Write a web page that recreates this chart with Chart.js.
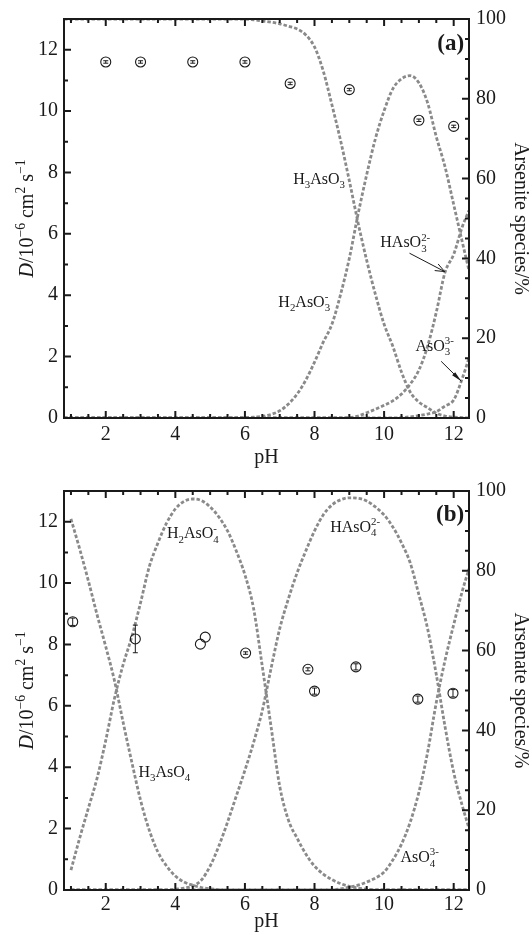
<!DOCTYPE html>
<html>
<head>
<meta charset="utf-8">
<script src="https://cdn.jsdelivr.net/npm/chart.js@4.4.1/dist/chart.umd.min.js"></script>
<style>
  body { margin: 0; background: #fff; }
  canvas { position: absolute; left: 0; }
</style>
</head>
<body>
<canvas id="chartA" width="532" height="472" style="top:0"></canvas>
<canvas id="chartB" width="532" height="463" style="top:472px"></canvas>
<script>
// tick labels
const xTicks = [2, 4, 6, 8, 10, 12];
const dTicks = [0, 2, 4, 6, 8, 10, 12];
const pctTicks = [0, 20, 40, 60, 80, 100];

// (a) arsenite: measured D and speciation curves (%)
const pointPhA = [2, 3, 4.5, 6, 7.3, 9, 11, 12];
const pointDA = [11.6, 11.6, 11.6, 11.6, 10.9, 10.7, 9.7, 9.5];
const pointErrA = [0.04, 0.04, 0.04, 0.04, 0.04, 0.04, 0.04, 0.04];

const phA = [0.8, 1, 2, 3, 4, 5, 6, 6.25, 6.5, 6.75, 7, 7.25, 7.5, 7.75, 8, 8.25, 8.5,
  8.75, 9, 9.25, 9.5, 9.75, 10, 10.25, 10.5, 10.75, 11, 11.25, 11.5, 11.75, 12, 12.25, 12.44];
const h3aso3 = [100, 100, 100, 100, 100, 100, 100, 99.8, 99.5, 99.2, 98.8, 98.2, 97.5, 96, 93, 87, 78.5,
  69.5, 59.5, 49, 39.5, 31, 23.5, 18, 11.5, 6.5, 4, 2.6, 1.2, 0.5, 0.2, 0.1, 0];
const h2aso3 = [0, 0, 0, 0, 0, 0, 0.1, 0.2, 0.4, 0.9, 1.8, 3.5, 6, 9.5, 14, 19, 23.5,
  31, 40, 51, 61, 70, 77, 82.5, 85, 85.8, 84, 79, 70.5, 63, 53.5, 44, 37];
const haso3 = [0, 0, 0, 0, 0, 0, 0, 0, 0, 0, 0, 0, 0, 0, 0, 0, 0,
  0, 0.1, 0.5, 1.3, 2.2, 3.2, 4.3, 6, 8.5, 12, 18, 26.5, 36.5, 41, 48, 52];
const aso3 = [0, 0, 0, 0, 0, 0, 0, 0, 0, 0, 0, 0, 0, 0, 0, 0, 0,
  0, 0, 0, 0, 0, 0, 0, 0.1, 0.3, 0.6, 1, 1.6, 3, 4.5, 10, 15];

// (b) arsenate
const pointPhB = [1.05, 2.85, 4.72, 4.86, 6.02, 7.81, 8.0, 9.19, 10.97, 11.98];
const pointDB = [8.74, 8.18, 8.01, 8.24, 7.72, 7.19, 6.48, 7.27, 6.22, 6.41];
const pointErrB = [0.12, 0.45, 0, 0, 0.04, 0.05, 0.1, 0.1, 0.1, 0.12];

const phB = [1, 1.25, 1.5, 1.75, 2, 2.25, 2.5, 2.75, 3, 3.25, 3.5, 3.75, 4, 4.25, 4.5, 4.75,
  5, 5.25, 5.5, 5.75, 6, 6.25, 6.5, 6.75, 7, 7.25, 7.5, 7.75, 8, 8.25, 8.5, 8.75,
  9, 9.25, 9.5, 9.75, 10, 10.25, 10.5, 10.75, 11, 11.25, 11.5, 11.75, 12, 12.25, 12.44];
const h3aso4 = [93, 85.5, 77.5, 69, 61, 52.5, 42, 32, 22.5, 15, 9.5, 6, 3.5, 2, 1.2, 0.6,
  0.3, 0.1, 0, 0, 0, 0, 0, 0, 0, 0, 0, 0, 0, 0, 0, 0,
  0, 0, 0, 0, 0, 0, 0, 0, 0, 0, 0, 0, 0, 0, 0];
const h2aso4 = [5, 13, 20.5, 28, 37.5, 48, 56.5, 63.5, 72, 81, 87, 92, 95.5, 97.4, 98, 97.6,
  96, 93.5, 90, 85, 79, 70.5, 56, 41, 26, 17.5, 13, 9, 6, 4, 2.6, 1.6,
  0.9, 0.5, 0.2, 0, 0, 0, 0, 0, 0, 0, 0, 0, 0, 0, 0];
const haso4 = [0, 0, 0, 0, 0, 0, 0, 0, 0, 0, 0, 0, 0.2, 0.5, 1, 2.5,
  6, 11, 17, 23.5, 30, 37, 45, 55.5, 65.5, 73, 79.5, 85, 90, 94, 96.5, 97.8,
  98.3, 98.2, 97.5, 96, 94, 91, 87, 82, 74, 65.5, 54, 41, 29.5, 21, 15.5];
const aso4 = [0, 0, 0, 0, 0, 0, 0, 0, 0, 0, 0, 0, 0, 0, 0, 0,
  0, 0, 0, 0, 0, 0, 0, 0, 0, 0, 0, 0, 0, 0, 0, 0.3,
  0.7, 1.2, 2, 3, 4.5, 7.5, 11.5, 17, 24.5, 34.5, 47, 57.5, 66.5, 75, 80.5];

const SERIF = '"Liberation Serif", "Times New Roman", serif';
const INK = '#1a1a1a';

function fontOf(p, size) {
  return (p.i ? 'italic ' : '') + (p.b ? 'bold ' : '') + size + 'px ' + SERIF;
}
function partWidth(ctx, p, size) {
  if (p.t === undefined) {
    ctx.font = fontOf(p, size * 0.68);
    return Math.max(ctx.measureText(p.sub || '').width, ctx.measureText(p.sup || '').width);
  }
  ctx.font = fontOf(p, size);
  return ctx.measureText(p.t).width;
}
// text with sub/superscripts drawn on one baseline
function drawRich(ctx, parts, x, y, size, align) {
  ctx.save();
  ctx.fillStyle = INK;
  ctx.textAlign = 'left';
  ctx.textBaseline = 'alphabetic';
  const total = parts.reduce((w, p) => w + partWidth(ctx, p, size), 0);
  let cx = align === 'center' ? x - total / 2 : align === 'right' ? x - total : x;
  parts.forEach(p => {
    const w = partWidth(ctx, p, size);
    if (p.t !== undefined) {
      ctx.font = fontOf(p, size);
      ctx.fillText(p.t, cx, y);
    } else {
      ctx.font = fontOf(p, size * 0.68);
      if (p.sub) ctx.fillText(p.sub, cx, y + size * 0.28);
      if (p.sup) ctx.fillText(p.sup, cx, y - size * 0.42);
    }
    cx += w;
  });
  ctx.restore();
}

const dTitle = [{ t: 'D', i: 1 }, { t: '/10' }, { sup: '\u22126' }, { t: ' cm' }, { sup: '2' }, { t: ' s' }, { sup: '\u22121' }];

// frame, inward ticks, left title, labels, arrows, error bars
const decor = {
  id: 'decor',
  afterDatasetsDraw(chart, args, opts) {
    const { ctx } = chart;
    const { x, y, y2 } = chart.scales;

    // error bars
    chart.data.datasets.forEach((ds, i) => {
      if (!ds.errors) return;
      const meta = chart.getDatasetMeta(i);
      ctx.save();
      ctx.strokeStyle = INK;
      ctx.lineWidth = 1;
      ctx.beginPath();
      meta.data.forEach((el, j) => {
        const e = ds.errors[j];
        if (!e) return;
        const top = y.getPixelForValue(ds.data[j].y + e);
        const bot = y.getPixelForValue(ds.data[j].y - e);
        ctx.moveTo(el.x, top); ctx.lineTo(el.x, bot);
        ctx.moveTo(el.x - 2.5, top); ctx.lineTo(el.x + 2.5, top);
        ctx.moveTo(el.x - 2.5, bot); ctx.lineTo(el.x + 2.5, bot);
      });
      ctx.stroke();
      ctx.restore();
    });

    // species labels
    (opts.labels || []).forEach(l => {
      drawRich(ctx, l.parts, x.getPixelForValue(l.at[0]), y2.getPixelForValue(l.at[1]), l.size || 16, l.align || 'left');
    });

    // arrows
    (opts.arrows || []).forEach(a => {
      const x0 = x.getPixelForValue(a.from[0]), y0 = y2.getPixelForValue(a.from[1]);
      const x1 = x.getPixelForValue(a.to[0]), y1 = y2.getPixelForValue(a.to[1]);
      const ang = Math.atan2(y1 - y0, x1 - x0);
      ctx.save();
      ctx.strokeStyle = INK;
      ctx.fillStyle = INK;
      ctx.lineWidth = 1;
      ctx.beginPath();
      ctx.moveTo(x0, y0); ctx.lineTo(x1, y1);
      ctx.stroke();
      const len = a.head === 'filled' ? 11 : 10;
      const spread = a.head === 'filled' ? 0.2 : 0.38;
      ctx.beginPath();
      ctx.moveTo(x1 - len * Math.cos(ang - spread), y1 - len * Math.sin(ang - spread));
      ctx.lineTo(x1, y1);
      ctx.lineTo(x1 - len * Math.cos(ang + spread), y1 - len * Math.sin(ang + spread));
      if (a.head === 'filled') { ctx.closePath(); ctx.fill(); } else { ctx.stroke(); }
      ctx.restore();
    });
  },
  afterDraw(chart) {
    const { ctx, chartArea: a } = chart;
    const { x, y, y2 } = chart.scales;
    ctx.save();
    ctx.strokeStyle = INK;
    ctx.lineWidth = 2;
    ctx.beginPath();
    for (let v = 1; v <= 12; v += 0.5) {
      const p = x.getPixelForValue(v);
      const len = v % 2 === 0 ? 7 : 4;
      ctx.moveTo(p, a.bottom); ctx.lineTo(p, a.bottom - len);
      ctx.moveTo(p, a.top); ctx.lineTo(p, a.top + len);
    }
    for (let v = 0; v <= 13; v += 1) {
      const p = y.getPixelForValue(v);
      ctx.moveTo(a.left, p); ctx.lineTo(a.left + (v % 2 === 0 ? 7 : 4), p);
    }
    for (let v = 0; v <= 100; v += 5) {
      const p = y2.getPixelForValue(v);
      ctx.moveTo(a.right, p); ctx.lineTo(a.right - (v % 20 === 0 ? 7 : 4), p);
    }
    ctx.stroke();
    ctx.strokeRect(a.left, a.top, a.right - a.left, a.bottom - a.top);
    ctx.restore();

    // left axis title with italic D and superscripts
    ctx.save();
    ctx.translate(33, (a.top + a.bottom) / 2);
    ctx.rotate(-Math.PI / 2);
    drawRich(ctx, dTitle, 0, 0, 20, 'center');
    ctx.restore();
  }
};

function pairs(xs, ys) {
  return xs.map((v, i) => ({ x: v, y: ys[i] }));
}

function build(id, o) {
  const tickFont = { family: SERIF, size: 20 };
  const curveStyle = {
    type: 'line', xAxisID: 'x', yAxisID: 'y2',
    borderColor: '#8a8a8a', borderWidth: 2.8, borderDash: [3.5, 2],
    pointRadius: 0, fill: false, cubicInterpolationMode: 'monotone'
  };
  return new Chart(document.getElementById(id), {
    type: 'scatter',
    data: {
      datasets: [
        {
          data: pairs(o.pointPh, o.pointD), errors: o.pointErr,
          xAxisID: 'x', yAxisID: 'y',
          pointRadius: 5, pointBorderWidth: 1.1, pointBorderColor: INK,
          pointBackgroundColor: 'rgba(0,0,0,0)'
        },
        ...o.curves.map(c => Object.assign({ data: pairs(o.ph, c) }, curveStyle))
      ]
    },
    options: {
      responsive: false,
      animation: false,
      devicePixelRatio: 1,
      layout: { padding: { top: o.top, left: 0, right: 0, bottom: 0 } },
      plugins: {
        legend: { display: false },
        tooltip: { enabled: false },
        decor: { labels: o.labels, arrows: o.arrows }
      },
      scales: {
        x: {
          type: 'linear', position: 'bottom', min: 0.8, max: 12.44,
          grid: { display: false, drawTicks: false }, border: { display: false },
          afterBuildTicks: s => { s.ticks = xTicks.map(v => ({ value: v })); },
          ticks: { padding: o.xPad, color: INK, font: tickFont, autoSkip: false, maxRotation: 0 },
          title: { display: true, text: 'pH', color: INK, font: tickFont, padding: { top: 0, bottom: o.titlePad } },
          afterFit: s => { s.height = o.xH; }
        },
        y: {
          type: 'linear', position: 'left', min: 0, max: 13,
          grid: { display: false, drawTicks: false }, border: { display: false },
          afterBuildTicks: s => { s.ticks = dTicks.map(v => ({ value: v })); },
          ticks: { padding: 6, color: INK, font: tickFont },
          afterFit: s => { s.width = 64; }
        },
        y2: {
          type: 'linear', position: 'right', min: 0, max: 100,
          grid: { display: false, drawTicks: false }, border: { display: false },
          afterBuildTicks: s => { s.ticks = pctTicks.map(v => ({ value: v })); },
          ticks: { padding: 7, color: INK, font: tickFont },
          title: { display: true, text: o.rightTitle, color: INK, font: tickFont, padding: { top: 0, bottom: 0 } },
          afterFit: s => { s.width = 63; }
        }
      }
    },
    plugins: [decor]
  });
}

build('chartA', {
  pointPh: pointPhA, pointD: pointDA, pointErr: pointErrA,
  ph: phA, curves: [h3aso3, h2aso3, haso3, aso3],
  top: 19, xH: 54, xPad: 5, titlePad: 2,
  rightTitle: 'Arsenite species/%',
  labels: [
    { at: [7.39, 58.7], parts: [{ t: 'H' }, { sub: '3' }, { t: 'AsO' }, { sub: '3' }] },
    { at: [6.96, 27.9], parts: [{ t: 'H' }, { sub: '2' }, { t: 'AsO' }, { sub: '3', sup: '-' }] },
    { at: [9.89, 42.8], parts: [{ t: 'HAsO' }, { sub: '3', sup: '2-' }] },
    { at: [10.9, 16.9], parts: [{ t: 'AsO' }, { sub: '3', sup: '3-' }] },
    { at: [12.3, 92.3], parts: [{ t: '(a)', b: 1 }], size: 23, align: 'right' }
  ],
  arrows: [
    { from: [10.73, 41.3], to: [11.74, 36.7], head: 'open' },
    { from: [11.64, 14.2], to: [12.22, 9.2], head: 'filled' }
  ]
});

build('chartB', {
  pointPh: pointPhB, pointD: pointDB, pointErr: pointErrB,
  ph: phB, curves: [h3aso4, h2aso4, haso4, aso4],
  top: 14, xH: 45, xPad: 3, titlePad: 1,
  rightTitle: 'Arsenate species/%',
  labels: [
    { at: [3.76, 88.1], parts: [{ t: 'H' }, { sub: '2' }, { t: 'AsO' }, { sub: '4', sup: '-' }] },
    { at: [8.45, 89.8], parts: [{ t: 'HAsO' }, { sub: '4', sup: '2-' }] },
    { at: [2.94, 28.4], parts: [{ t: 'H' }, { sub: '3' }, { t: 'AsO' }, { sub: '4' }] },
    { at: [10.47, 7.0], parts: [{ t: 'AsO' }, { sub: '4', sup: '3-' }] },
    { at: [12.3, 92.4], parts: [{ t: '(b)', b: 1 }], size: 23, align: 'right' }
  ],
  arrows: []
});
</script>
</body>
</html>
